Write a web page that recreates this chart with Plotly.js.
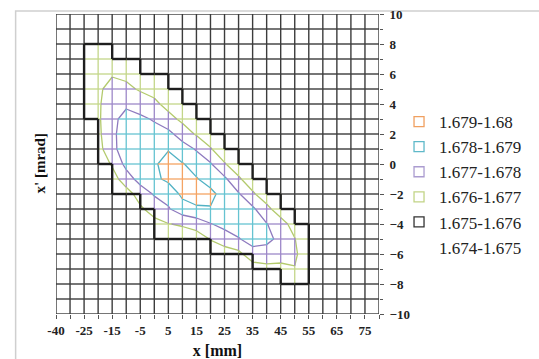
<!DOCTYPE html>
<html>
<head>
<meta charset="utf-8">
<script src="https://cdn.plot.ly/plotly-3.0.1.min.js"></script>
<style>html,body{margin:0;padding:0;background:#fff;}#chart{width:539px;height:359px;}</style>
</head>
<body>
<div id="chart"></div>
<script>
// x categories (mm) – one per grid column
const xCats = [-40,-30,-25,-20,-15,-10,-5,0,5,10,15,20,25,30,35,40,45,50,55,60,65,70,75,80];
// x' values (mrad), top row first
const yVals = [10,9,8,7,6,5,4,3,2,1,0,-1,-2,-3,-4,-5,-6,-7,-8,-9,-10];
// surface values, one row per yVals entry (0 = no data)
const zRows = [
[0,0,0,0,0,0,0,0,0,0,0,0,0,0,0,0,0,0,0,0,0,0,0,0],
[0,0,0,0,0,0,0,0,0,0,0,0,0,0,0,0,0,0,0,0,0,0,0,0],
[0,0,1.6763,1.6763,1.6763,0,0,0,0,0,0,0,0,0,0,0,0,0,0,0,0,0,0,0],
[0,0,1.6765,1.6765,1.6765,1.6765,1.6764,0,0,0,0,0,0,0,0,0,0,0,0,0,0,0,0,0],
[0,0,1.6766,1.6767,1.6769,1.6768,1.6766,1.6764,1.6763,0,0,0,0,0,0,0,0,0,0,0,0,0,0,0],
[0,0,1.6767,1.6768,1.6774,1.6772,1.6769,1.6767,1.6765,1.6763,0,0,0,0,0,0,0,0,0,0,0,0,0,0],
[0,0,1.6767,1.67685,1.6776,1.6778,1.6775,1.6772,1.6767,1.6765,1.6763,0,0,0,0,0,0,0,0,0,0,0,0,0],
[0,0,1.6765,1.67685,1.6777,1.6784,1.6782,1.6779,1.6773,1.6768,1.6765,1.6763,0,0,0,0,0,0,0,0,0,0,0,0],
[0,0,0,1.6768,1.6777,1.6787,1.6786,1.6784,1.6783,1.6775,1.6769,1.6766,1.6763,0,0,0,0,0,0,0,0,0,0,0],
[0,0,0,1.6767,1.6776,1.6788,1.6788,1.6787,1.67895,1.6785,1.6779,1.67705,1.6766,1.6763,0,0,0,0,0,0,0,0,0,0],
[0,0,0,1.6764,1.6771,1.6783,1.6788,1.6789,1.6793,1.67905,1.6787,1.6781,1.67705,1.6766,1.6763,0,0,0,0,0,0,0,0,0],
[0,0,0,0,1.6766,1.6775,1.6784,1.6788,1.6792,1.6794,1.67905,1.6787,1.6782,1.6771,1.6766,1.6763,0,0,0,0,0,0,0,0],
[0,0,0,0,1.6763,1.6766,1.6774,1.6781,1.6784,1.6792,1.6793,1.6792,1.6787,1.6781,1.6771,1.6766,1.6763,0,0,0,0,0,0,0],
[0,0,0,0,0,0,1.67685,1.6774,1.6779,1.6786,1.6789,1.67895,1.6787,1.6785,1.6782,1.6772,1.6766,1.6763,0,0,0,0,0,0],
[0,0,0,0,0,0,0,1.6767,1.67697,1.6771,1.6774,1.67795,1.6783,1.6784,1.6785,1.67805,1.6773,1.6767,1.6762,0,0,0,0,0],
[0,0,0,0,0,0,0,1.6763,1.6764,1.6765,1.6765,1.67705,1.6775,1.67795,1.6783,1.67815,1.67785,1.67703,1.6763,0,0,0,0,0],
[0,0,0,0,0,0,0,0,0,0,0,1.6764,1.6765,1.6767,1.6777,1.67775,1.6776,1.67715,1.6764,0,0,0,0,0],
[0,0,0,0,0,0,0,0,0,0,0,0,0,0,1.6764,1.6766,1.6766,1.67696,1.6764,0,0,0,0,0],
[0,0,0,0,0,0,0,0,0,0,0,0,0,0,0,0,1.6763,1.6763,1.6762,0,0,0,0,0],
[0,0,0,0,0,0,0,0,0,0,0,0,0,0,0,0,0,0,0,0,0,0,0,0],
[0,0,0,0,0,0,0,0,0,0,0,0,0,0,0,0,0,0,0,0,0,0,0,0]
];
// contour band edges and legend
const bandEdges = [1.676, 1.677, 1.678, 1.679];
const bandNames = ['1.679-1.68','1.678-1.679','1.677-1.678','1.676-1.677','1.675-1.676','1.674-1.675'];

// ---- styles ----
const FONT = 'Liberation Serif';
const gridColors = ['#3c3c3c','#c3d689','#9d88c8','#66c3d1','#f4a464']; // below 1.676, then each band upward
const gridWidths = [1.4,1.3,1.3,1.3,1.3];
const legendColors = ['#f0a060','#5fb9c9','#ab9cd0','#c2d486','#333333','rgba(0,0,0,0)'];

const xIdx = xCats.map((_, i) => i);
const yAsc = yVals.slice().reverse();
const zAsc = zRows.slice().reverse();
const nR = yAsc.length, nC = xIdx.length;

function band(z){ let b = 0; for (const e of bandEdges) if (z >= e) b++; return b; }

// wireframe: every grid edge, split where it crosses a band edge
const segs = gridColors.map(() => ({x: [], y: []}));
function addEdge(x1, y1, z1, x2, y2, z2){
  const ts = [0, 1];
  for (const L of bandEdges) if ((z1 - L) * (z2 - L) < 0) ts.push((L - z1) / (z2 - z1));
  ts.sort((a, b) => a - b);
  for (let k = 0; k < ts.length - 1; k++){
    const tm = (ts[k] + ts[k+1]) / 2;
    const b = band(z1 + (z2 - z1) * tm);
    segs[b].x.push(x1 + (x2 - x1) * ts[k], x1 + (x2 - x1) * ts[k+1], null);
    segs[b].y.push(y1 + (y2 - y1) * ts[k], y1 + (y2 - y1) * ts[k+1], null);
  }
}
for (let r = 0; r < nR; r++) for (let c = 0; c < nC - 1; c++)
  addEdge(xIdx[c], yAsc[r], zAsc[r][c], xIdx[c+1], yAsc[r], zAsc[r][c+1]);
for (let r = 0; r < nR - 1; r++) for (let c = 0; c < nC; c++)
  addEdge(xIdx[c], yAsc[r], zAsc[r][c], xIdx[c], yAsc[r+1], zAsc[r+1][c]);

// outer boundary of the data region (edges of the cells lying fully inside)
const inside = zAsc.map(row => row.map(v => v >= bandEdges[0]));
function full(r, c){
  return r >= 0 && c >= 0 && r < nR - 1 && c < nC - 1 &&
    inside[r][c] && inside[r+1][c] && inside[r][c+1] && inside[r+1][c+1] ? 1 : 0;
}
const bx = [], by = [];
for (let r = 0; r < nR; r++) for (let c = 0; c < nC - 1; c++)
  if (inside[r][c] && inside[r][c+1] && full(r-1, c) + full(r, c) === 1){
    bx.push(xIdx[c], xIdx[c+1], null); by.push(yAsc[r], yAsc[r], null);
  }
for (let r = 0; r < nR - 1; r++) for (let c = 0; c < nC; c++)
  if (inside[r][c] && inside[r+1][c] && full(r, c-1) + full(r, c) === 1){
    bx.push(xIdx[c], xIdx[c], null); by.push(yAsc[r], yAsc[r+1], null);
  }

const traces = [];
segs.forEach((s, b) => traces.push({
  type: 'scatter', mode: 'lines', x: s.x, y: s.y, showlegend: false, hoverinfo: 'skip',
  line: {color: gridColors[b], width: gridWidths[b]}
}));
traces.push({
  type: 'contour', x: xIdx, y: yAsc, z: zAsc, autocontour: false,
  contours: {start: bandEdges[1], end: bandEdges[3], size: bandEdges[1] - bandEdges[0], coloring: 'lines'},
  colorscale: [[0,'#b3ca6c'],[0.24,'#b3ca6c'],[0.26,'#8e7abf'],[0.74,'#8e7abf'],[0.76,'#52b2c4'],[1,'#52b2c4']],
  line: {width: 1.3, smoothing: 0}, showscale: false, showlegend: false, hoverinfo: 'skip'
});
traces.push({
  type: 'scatter', mode: 'lines', x: bx, y: by, showlegend: false, hoverinfo: 'skip',
  line: {color: '#1e1e1e', width: 2.4}
});
bandNames.forEach((n, i) => traces.push({
  type: 'scatter', mode: 'markers', x: [null], y: [null], name: n, hoverinfo: 'skip',
  marker: {symbol: 'square-open', size: 10, color: legendColors[i], line: {width: 1.3, color: legendColors[i]}}
}));

const tickIdx = xIdx.filter(i => i % 2 === 0);
const layout = {
  width: 539, height: 359,
  margin: {l: 56, r: 139, t: 14, b: 45},
  paper_bgcolor: '#ffffff', plot_bgcolor: '#ffffff',
  showlegend: true,
  legend: {x: 1.062, xanchor: 'left', y: 0.7, yanchor: 'top', font: {family: FONT, size: 17, color: '#222'},
           itemwidth: 30, bgcolor: 'rgba(0,0,0,0)', traceorder: 'normal'},
  xaxis: {range: [0, 23], showgrid: false, zeroline: false, showline: false,
          tickmode: 'array', tickvals: tickIdx, ticktext: tickIdx.map(i => String(xCats[i])),
          ticks: 'outside', ticklen: 4, tickcolor: '#555',
          minor: {ticks: 'outside', ticklen: 4, tickmode: 'linear', tick0: 0, dtick: 1, tickcolor: '#555'},
          tickfont: {family: FONT, size: 13, color: '#222', weight: 'bold'},
          title: {text: 'x [mm]', font: {family: FONT, size: 16, color: '#111', weight: 'bold'}, standoff: 8}},
  yaxis: {range: [-10, 10], side: 'right', showgrid: false, zeroline: false, showline: false,
          tickmode: 'linear', tick0: -10, dtick: 2, ticks: 'outside', ticklen: 4, tickcolor: '#555',
          minor: {ticks: 'outside', ticklen: 3, dtick: 1, tickcolor: '#555'},
          ticklabelstandoff: 3,
          tickfont: {family: FONT, size: 13, color: '#222', weight: 'bold'}},
  annotations: [{text: "x' [mrad]", xref: 'paper', yref: 'paper', x: -0.082, y: 0.5,
                 textangle: -90, showarrow: false, font: {family: FONT, size: 15, color: '#111', weight: 'bold'}}],
  shapes: [{type: 'rect', xref: 'paper', yref: 'paper', x0: -0.125, x1: 1.6, y0: -0.5, y1: 1.01,
            line: {color: '#cfcfcf', width: 1.5}, layer: 'below'}]
};
Plotly.newPlot('chart', traces, layout, {staticPlot: true, displayModeBar: false});
</script>
</body>
</html>
